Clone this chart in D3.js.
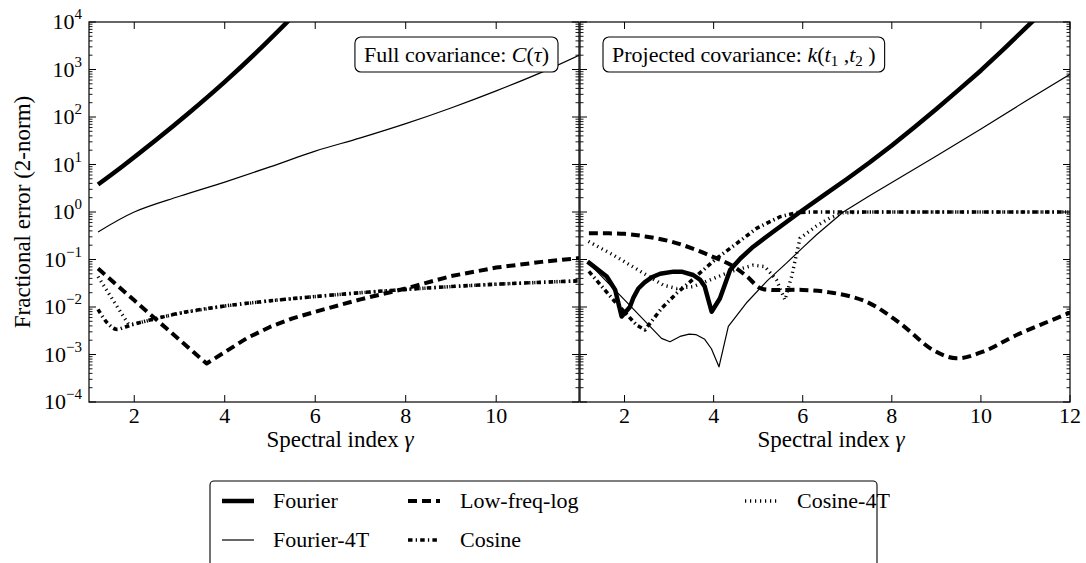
<!DOCTYPE html>
<html><head><meta charset="utf-8">
<script src="https://cdn.jsdelivr.net/npm/d3@7"></script>
</head><body style="margin:0;background:#fff">
<svg id="c" width="1086" height="563"></svg>
<script>
// ---------------- DATA ----------------
// Left panel: Full covariance C(tau)
const L_fourier_g   = [1.2,1.75,2.5,3.2,4.0,4.7,5.35,6.0];
const L_fourier_v   = [3.8,9.33,33.9,120,550,2290,9330,39800];
const L_fourier4T_g = [1.2,2,3,4,5,6,7,8,9,10,11,11.83];
const L_fourier4T_v = [0.38,1.0,2.14,4.27,8.9,19.1,36.3,72.4,155,355,871,1995];
const L_lowfreq_g   = [1.2,2,3,3.6,4,4.5,5,5.5,6,7,8,9,10,11,11.83];
const L_lowfreq_v   = [0.0646,0.0138,0.00204,0.000646,0.00112,0.00224,0.0038,0.00575,0.00794,0.0145,0.0245,0.0447,0.0676,0.0891,0.107];
const L_cos_g       = [1.2,1.4,1.6,1.8,2,2.5,3,4,5,6,7,8,9,10,11,11.83];
const L_cos_v       = [0.00891,0.00468,0.00339,0.0038,0.00437,0.00575,0.00741,0.0105,0.0135,0.0166,0.02,0.0234,0.0269,0.0302,0.0331,0.0355];
const L_cos4T_g     = [1.2,1.4,1.6,1.87,2,2.5,3,4,5,6,7,8,9,10,11,11.83];
const L_cos4T_v     = [0.0437,0.0219,0.011,0.00437,0.00437,0.00575,0.00741,0.0105,0.0135,0.0166,0.02,0.0234,0.0269,0.0302,0.0331,0.0355];

// Right panel: Projected covariance k(t1,t2)
const R_fourier_g   = [1.17,1.6,1.79,1.935,2.12,2.2,2.31,2.45,2.61,2.8,3.1,3.3,3.54,3.7,3.8,3.955,4.14,4.37,4.6,4.89,5.2,5.49,5.94,6.5,7,7.5,8,8.5,9,9.5,10,10.5,11,11.5];
const R_fourier_v   = [0.0902,0.0437,0.0229,0.00631,0.01,0.0158,0.0245,0.0331,0.0422,0.0501,0.0555,0.055,0.0472,0.0372,0.0269,0.00794,0.0151,0.0603,0.105,0.186,0.309,0.49,1.0,2.34,5.01,11.0,25.1,60.3,148,372,955,2630,7410,20900];
const R_fourier4T_g = [1.17,2.0,2.83,3.02,3.245,3.45,3.6,3.8,3.95,4.12,4.33,4.75,5.2,5.64,6.0,6.31,6.91,7.5,8,9,10,11,12];
const R_fourier4T_v = [0.0891,0.0141,0.00219,0.00186,0.0024,0.00269,0.00263,0.00209,0.00132,0.00055,0.00389,0.0126,0.0355,0.0851,0.178,0.331,1.0,2.19,4.17,15.1,56.2,214,794];
const R_lowfreq_g   = [1.2,2,2.5,3,3.5,4,4.4,4.74,5.04,5.3,6,6.66,7.43,8.18,8.93,9.45,10.05,10.8,12];
const R_lowfreq_v   = [0.355,0.347,0.302,0.245,0.174,0.112,0.0759,0.0447,0.0251,0.0229,0.0229,0.02,0.0129,0.00457,0.00123,0.000832,0.00115,0.00257,0.00759];
const R_cos_g       = [1.2,1.75,2.27,2.46,2.83,3.17,3.47,3.77,4.07,4.52,4.97,5.49,5.86,6.2,7,8,9,10,11,12];
const R_cos_v       = [0.0562,0.0141,0.00417,0.00331,0.00933,0.0195,0.0339,0.0603,0.106,0.219,0.457,0.794,0.968,1,1,1,1,1,1,1];
const R_cos4T_g     = [1.19,1.75,2.5,2.87,3.17,3.54,3.92,4.37,4.89,5.15,5.41,5.6,5.75,5.94,6.3,6.6,6.9,7.5,8,9,10,11,12];
const R_cos4T_v     = [0.24,0.124,0.0468,0.0288,0.0245,0.0269,0.0372,0.055,0.0759,0.0708,0.0372,0.0141,0.0437,0.282,0.501,0.741,0.955,1,1,1,1,1,1];

const yTickExps   = [4,3,2,1,0,-1,-2,-3,-4];
const xTicksLeft  = [2,4,6,8,10];
const xTicksRight = [2,4,6,8,10,12];
const legendNames = ["Fourier","Fourier-4T","Low-freq-log","Cosine","Cosine-4T"];
const panelTitles = ["Full covariance: ","Projected covariance: "];

// ---------------- LAYOUT ----------------
const FONT = "'Liberation Serif'";
const svg = d3.select("#c");
const yTop = 22, yBot = 402;
const y = d3.scaleLog().domain([1e-4,1e4]).range([yBot, yTop]);
const xL = d3.scaleLinear().domain([1, 11.83]).range([89, 579]);
const xR = d3.scaleLinear().domain([1, 12]).range([580, 1070]);

const styles = {
  "Fourier":      {w:4.5, dash:null},
  "Fourier-4T":   {w:1.2, dash:null},
  "Low-freq-log": {w:4,   dash:"9,5"},
  "Cosine":       {w:3.6, dash:"4.5,3.2,1.3,3.2"},
  "Cosine-4T":    {w:3.4, dash:"1.2,3.8"}
};

function zip(g,v){ return g.map((d,i)=>({g:d, v:v[i]})); }
function txt(sel){ return sel.append("text").attr("font-family",FONT).attr("fill","#000"); }

const panels = [
  {x:xL, id:"L", ticks:xTicksLeft, series:[
    {name:"Fourier-4T", data:zip(L_fourier4T_g,L_fourier4T_v), curve:d3.curveCatmullRom},
    {name:"Low-freq-log", data:zip(L_lowfreq_g,L_lowfreq_v), curve:d3.curveLinear},
    {name:"Cosine", data:zip(L_cos_g,L_cos_v), curve:d3.curveCatmullRom},
    {name:"Cosine-4T", data:zip(L_cos4T_g,L_cos4T_v), curve:d3.curveLinear},
    {name:"Fourier", data:zip(L_fourier_g,L_fourier_v), curve:d3.curveCatmullRom}
  ]},
  {x:xR, id:"R", ticks:xTicksRight, series:[
    {name:"Fourier-4T", data:zip(R_fourier4T_g,R_fourier4T_v), curve:d3.curveLinear},
    {name:"Low-freq-log", data:zip(R_lowfreq_g,R_lowfreq_v), curve:d3.curveCatmullRom},
    {name:"Cosine", data:zip(R_cos_g,R_cos_v), curve:d3.curveLinear},
    {name:"Cosine-4T", data:zip(R_cos4T_g,R_cos4T_v), curve:d3.curveLinear},
    {name:"Fourier", data:zip(R_fourier_g,R_fourier_v), curve:d3.curveLinear}
  ]}
];

const defs = svg.append("defs");
const minorVals = [];
for (let e=-4; e<4; e++) for (let m=2; m<10; m++) minorVals.push(m*Math.pow(10,e));

panels.forEach((p,pi)=>{
  const [x0,x1] = p.x.range();
  defs.append("clipPath").attr("id","clip"+p.id)
    .append("rect").attr("x",x0).attr("y",yTop).attr("width",x1-x0).attr("height",yBot-yTop);
  const g = svg.append("g");
  const lg = g.append("g").attr("clip-path","url(#clip"+p.id+")");
  p.series.forEach(s=>{
    const st = styles[s.name];
    const line = d3.line().x(d=>p.x(d.g)).y(d=>y(d.v)).curve(s.curve);
    lg.append("path").attr("d",line(s.data)).attr("fill","none")
      .attr("stroke","#000").attr("stroke-width",st.w)
      .attr("stroke-dasharray",st.dash).attr("stroke-linejoin","round");
  });
  g.append("rect").attr("x",x0).attr("y",yTop).attr("width",x1-x0).attr("height",yBot-yTop)
    .attr("fill","none").attr("stroke","#000").attr("stroke-width",1.2);
  yTickExps.forEach(e=>{
    const yy = y(Math.pow(10,e));
    g.append("line").attr("x1",x0).attr("x2",x0+7).attr("y1",yy).attr("y2",yy).attr("stroke","#000");
    g.append("line").attr("x1",x1).attr("x2",x1-7).attr("y1",yy).attr("y2",yy).attr("stroke","#000");
  });
  minorVals.forEach(v=>{
    const yy = y(v);
    g.append("line").attr("x1",x0).attr("x2",x0+3.5).attr("y1",yy).attr("y2",yy).attr("stroke","#000").attr("stroke-width",0.9);
    g.append("line").attr("x1",x1).attr("x2",x1-3.5).attr("y1",yy).attr("y2",yy).attr("stroke","#000").attr("stroke-width",0.9);
  });
  p.ticks.forEach(t=>{
    const xx = p.x(t);
    g.append("line").attr("x1",xx).attr("x2",xx).attr("y1",yBot).attr("y2",yBot-7).attr("stroke","#000");
    g.append("line").attr("x1",xx).attr("x2",xx).attr("y1",yTop).attr("y2",yTop+7).attr("stroke","#000");
    txt(g).attr("x",xx).attr("y",yBot+21).attr("text-anchor","middle").attr("font-size",22).text(t);
  });
  const xl = txt(g).attr("x",(x0+x1)/2+6).attr("y",447).attr("text-anchor","middle").attr("font-size",23);
  xl.append("tspan").text("Spectral index ");
  xl.append("tspan").attr("font-style","italic").text("\u03b3");
  const t = txt(g).attr("y",62).attr("font-size",22);
  t.append("tspan").text(panelTitles[pi]);
  if (pi===0){
    t.append("tspan").attr("font-style","italic").text("C");
    t.append("tspan").text("(");
    t.append("tspan").attr("font-style","italic").text("\u03c4");
    t.append("tspan").text(")");
  } else {
    t.append("tspan").attr("font-style","italic").text("k");
    t.append("tspan").text("(");
    t.append("tspan").attr("font-style","italic").text("t");
    t.append("tspan").attr("font-size",15).attr("dy",4).text("1");
    t.append("tspan").attr("dy",-4).text(" ,");
    t.append("tspan").attr("font-style","italic").text("t");
    t.append("tspan").attr("font-size",15).attr("dy",4).text("2");
    t.append("tspan").attr("dy",-4).text(" )");
  }
  t.attr("x",0);
  const bb0 = t.node().getBBox();
  const padX = 9;
  const boxX = pi===0 ? x1 - 21 - (bb0.width + 2*padX) : x0 + 23;
  t.attr("x", boxX + padX);
  g.insert("rect","text").attr("x",boxX).attr("y",37).attr("width",bb0.width+2*padX).attr("height",35)
    .attr("rx",6).attr("fill","#fff").attr("stroke","#000").attr("stroke-width",1.1);
});

yTickExps.forEach(e=>{
  const yy = y(Math.pow(10,e));
  const t = txt(svg).attr("x",82).attr("y",yy+7).attr("text-anchor","end").attr("font-size",22);
  t.append("tspan").text("10");
  t.append("tspan").attr("font-size",15).attr("dy",-10).text(e<0 ? "\u2212"+(-e) : String(e));
});
txt(svg).attr("transform","translate(30,212) rotate(-90)").attr("text-anchor","middle")
  .attr("font-size",23).text("Fractional error (2-norm)");

// ---------------- LEGEND ----------------
const leg = svg.append("g");
leg.append("rect").attr("x",210).attr("y",481).attr("width",667).attr("height",110).attr("rx",4)
  .attr("fill","#fff").attr("stroke","#000").attr("stroke-width",1.1);
const legPos = [
  {hx:222, tx:273, y:501}, {hx:222, tx:273, y:540},
  {hx:408, tx:460, y:501}, {hx:408, tx:460, y:540},
  {hx:745, tx:797, y:501}
];
legendNames.forEach((n,i)=>{
  const st = styles[n], p = legPos[i];
  leg.append("line").attr("x1",p.hx).attr("x2",p.hx+32).attr("y1",p.y).attr("y2",p.y)
    .attr("stroke","#000").attr("stroke-width",st.w).attr("stroke-dasharray",st.dash);
  txt(leg).attr("x",p.tx).attr("y",p.y+7).attr("font-size",22).text(n);
});
</script>
</body></html>
